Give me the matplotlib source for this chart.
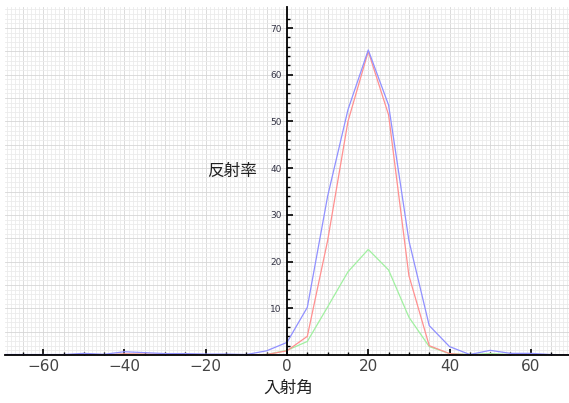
import matplotlib
matplotlib.use("Agg")
import matplotlib.pyplot as plt
import numpy as np
from matplotlib.ticker import MultipleLocator

plt.rcParams['font.family'] = ['Noto Sans CJK JP', 'DejaVu Sans']

angles = [-70, -65, -60, -55, -50, -45, -40, -35, -30, -25, -20, -15, -10, -5,
          0, 5, 10, 15, 20, 25, 30, 35, 40, 45, 50, 55, 60, 65, 70]
blue = [0.1, 0.1, 0.1, 0.1, 0.35, 0.15, 0.7, 0.5, 0.3, 0.3, 0.2, 0.2, 0.1, 0.9,
        2.7, 10.2, 34.0, 52.5, 65.3, 53.5, 24.5, 6.3, 1.8, 0.1, 1.0, 0.35, 0.35, 0.1, 0.0]
red = [0.0, 0.0, 0.0, 0.0, 0.1, 0.0, 0.25, 0.2, 0.1, 0.1, 0.0, 0.0, 0.0, 0.1,
       0.9, 4.0, 24.5, 50.0, 65.0, 51.4, 17.0, 2.0, 0.3, 0.0, 0.1, 0.05, 0.05, 0.0, 0.0]
green = [0.0, 0.0, 0.0, 0.0, 0.05, 0.0, 0.15, 0.1, 0.05, 0.05, 0.0, 0.0, 0.0, 0.1,
         1.0, 2.9, 10.3, 17.8, 22.6, 18.2, 8.1, 1.8, 0.3, 0.1, 0.3, 0.1, 0.1, 0.0, 0.0]

x_label = "入射角"
y_label = "反射率"

fig = plt.figure(figsize=(5.69, 4.03), dpi=100)
ax = fig.add_axes([5/569, 48/403, 564/569, 348/403])
ax.set_xlim(-69.4, 69.4)
ax.set_ylim(0, 74.5)

# grid
for v in np.arange(-69, 70, 1):
    c = '#d6d6d6' if v % 5 == 0 else '#ebebeb'
    ax.axvline(v, color=c, lw=0.6, zorder=0)
for v in np.arange(1, 75, 1):
    c = '#d6d6d6' if v % 5 == 0 else '#ebebeb'
    ax.axhline(v, color=c, lw=0.6, zorder=0)

ax.plot(angles, green, color='#a0f0a0', lw=0.9, zorder=3)
ax.plot(angles, red, color='#ff9090', lw=0.9, zorder=4)
ax.plot(angles, blue, color='#9090ff', lw=0.9, zorder=5)

for s in ['top', 'right']:
    ax.spines[s].set_visible(False)
ax.spines['left'].set_position(('data', 0))
ax.spines['bottom'].set_position(('data', 0))
ax.spines['left'].set_linewidth(1.3)
ax.spines['bottom'].set_linewidth(1.3)
ax.spines['left'].set_zorder(6)
ax.spines['bottom'].set_zorder(6)

ax.set_xticks([-60, -40, -20, 0, 20, 40, 60])
ax.set_xticks(np.arange(-65, 70, 5), minor=True)
ax.set_yticks([10, 20, 30, 40, 50, 60, 70])
ax.set_yticks(np.arange(2, 74, 2), minor=True)
ax.tick_params(axis='x', which='major', direction='in', length=4, width=1.2,
               labelsize=11, labelcolor='#444444', pad=3)
ax.tick_params(axis='x', which='minor', direction='in', length=2, width=1.0)
ax.tick_params(axis='y', which='major', direction='in', length=4, width=1.2,
               labelsize=6.5, labelcolor='#333344', pad=4)
ax.tick_params(axis='y', which='minor', direction='in', length=2.5, width=1.0)
ax.set_xticklabels(['\u221260', '\u221240', '\u221220', '0', '20', '40', '60'],
                   family='DejaVu Sans')
for lab in ax.get_yticklabels():
    lab.set_family('DejaVu Sans')

ax.text(-13.5, 39.2, y_label, fontsize=12, ha='center', va='center', color='#222222', zorder=7)
fig.text(288/569, 1 - 388/403, x_label, fontsize=12, ha='center', va='center', color='#222222')

fig.savefig('out.png', dpi=100)
